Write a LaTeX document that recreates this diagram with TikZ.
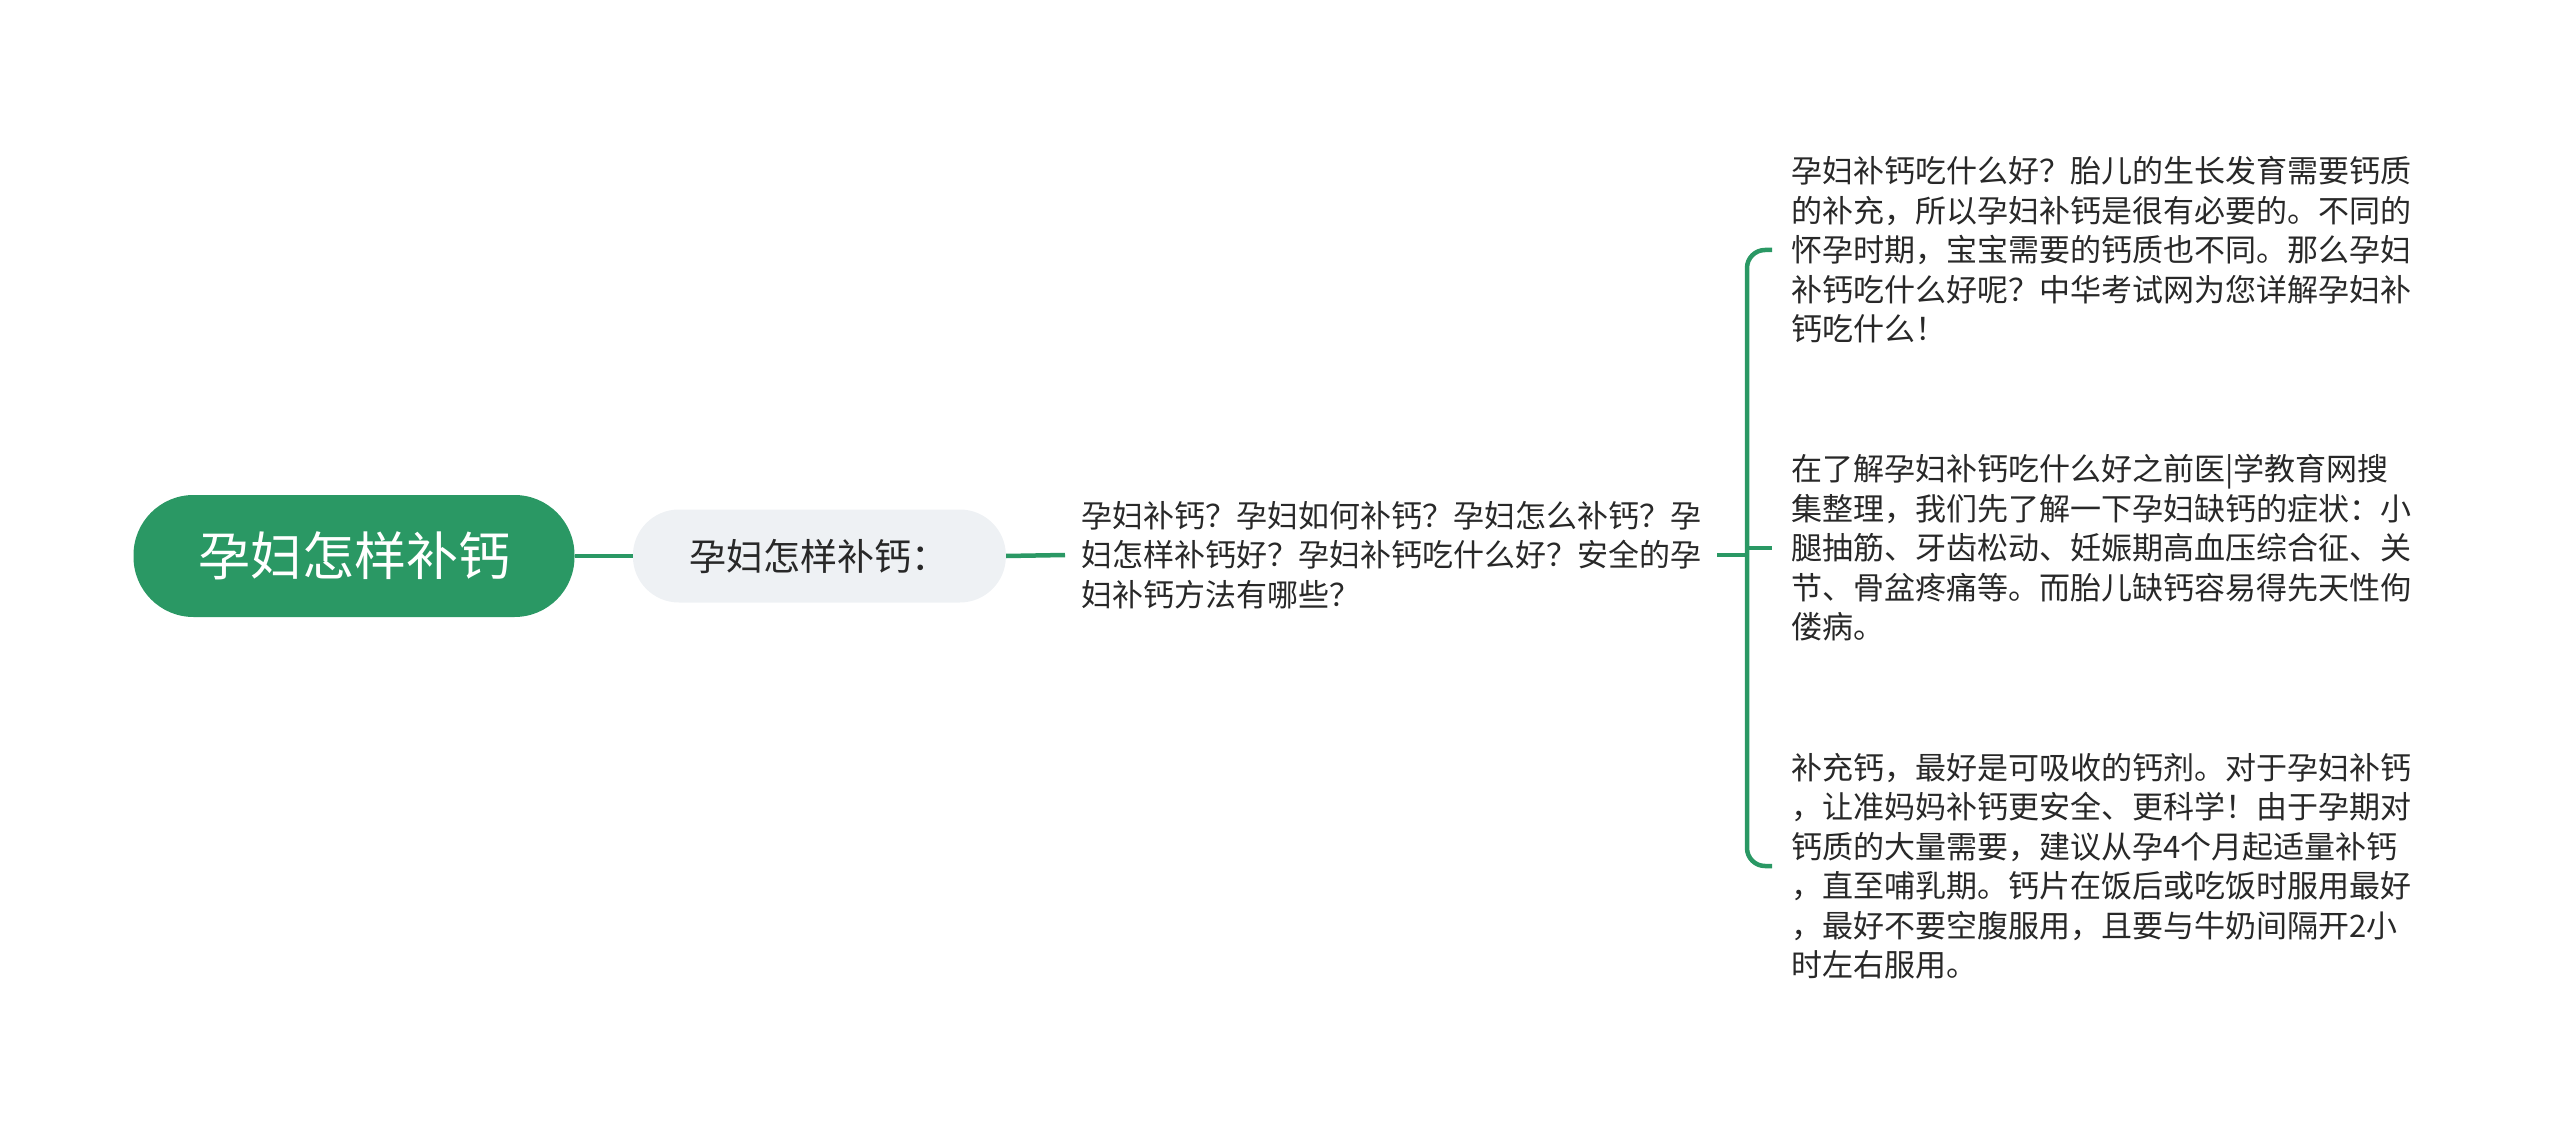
\documentclass[tikz,border=0pt]{standalone}
\usepackage{fontspec}
\setmainfont{Noto Sans CJK SC}
\usetikzlibrary{positioning}

\definecolor{mapgreen}{RGB}{42,152,100}
\definecolor{topicgray}{RGB}{238,241,244}
\definecolor{textdark}{RGB}{40,40,40}

\begin{document}
\begin{tikzpicture}[x=1pt, y=-1pt,
    link/.style={draw=mapgreen, line width=4.5pt},
    rootbox/.style={fill=mapgreen, text=white, rounded corners=60pt, minimum width=441pt, minimum height=122pt, font=\fontsize{52}{60}\selectfont},
    subbox/.style={fill=topicgray, text=textdark, rounded corners=46pt, minimum width=373pt, minimum height=93pt, font=\fontsize{37}{44}\selectfont},
    leaf/.style={anchor=west, align=left, text=textdark, inner xsep=16pt, font=\fontsize{31}{39.5}\selectfont}]
        \useasboundingbox (0,0) rectangle (2560,1131);

        % central topic and its one branch
        \node[rootbox] (root) at (354,556) {孕妇怎样补钙};
        \node[subbox, right=58pt of root] (sub) {孕妇怎样补钙：};

        \node[leaf] (mid) at (1065,555) {孕妇补钙？孕妇如何补钙？孕妇怎么补钙？孕\\妇怎样补钙好？孕妇补钙吃什么好？安全的孕\\妇补钙方法有哪些？};

        % three leaves on the right
        \node[leaf, inner xsep=19pt] (c1) at (1772,250) {孕妇补钙吃什么好？胎儿的生长发育需要钙质\\的补充，所以孕妇补钙是很有必要的。不同的\\怀孕时期，宝宝需要的钙质也不同。那么孕妇\\补钙吃什么好呢？中华考试网为您详解孕妇补\\钙吃什么！};
        \node[leaf, inner xsep=19pt] (c2) at (1772,548) {在了解孕妇补钙吃什么好之前医|学教育网搜\\集整理，我们先了解一下孕妇缺钙的症状：小\\腿抽筋、牙齿松动、妊娠期高血压综合征、关\\节、骨盆疼痛等。而胎儿缺钙容易得先天性佝\\偻病。};
        \node[leaf, inner xsep=19pt] (c3) at (1772,866) {补充钙，最好是可吸收的钙剂。对于孕妇补钙\\，让准妈妈补钙更安全、更科学！由于孕期对\\钙质的大量需要，建议从孕4个月起适量补钙\\，直至哺乳期。钙片在饭后或吃饭时服用最好\\，最好不要空腹服用，且要与牛奶间隔开2小\\时左右服用。};

        \coordinate (bus) at (1747,555);

        \draw[link] (root.east) -- (sub.west);
        \draw[link] (sub.east) -- (mid.west);
        \draw[link] (mid.east) -- (bus);
        \draw[link, rounded corners=18pt] (c1.west) -| (bus) |- (c3.west);
        \draw[link] (bus |- c2.west) -- (c2.west);
\end{tikzpicture}
\end{document}
